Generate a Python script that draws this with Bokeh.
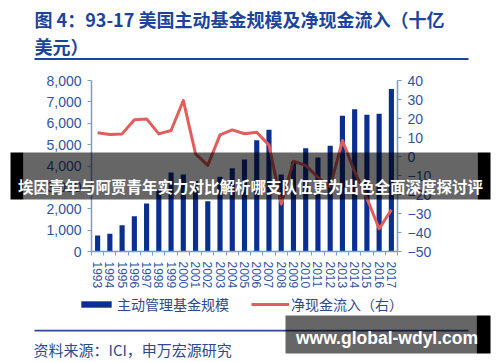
from bokeh.plotting import figure
from bokeh.models import (Range1d, LinearAxis, FixedTicker, NumeralTickFormatter,
                          Label, BoxAnnotation, Legend, LegendItem)
from bokeh.embed import file_html
from bokeh.resources import INLINE

# ---------------- data ----------------
years = list(range(1993, 2018))
fund_size = [750, 830, 1230, 1650, 2240, 2900, 3700, 3600, 3300, 2350,
             3500, 3900, 4300, 5200, 5700, 3600, 4200, 4830, 4400, 4950,
             6350, 6650, 6400, 6450, 7600]
net_flow = [12.5, 11.6, 11.9, 19.3, 19.8, 11.9, 13.7, 29.5, 1.4, -4.7,
            11.4, 14.0, 12.0, 12.8, 6.0, -25.0, -2.5, -4.7, -11.0, -16.0,
            8.4, -8.0, -22.0, -38.0, -28.0]
left_ticks = [0, 1000, 2000, 3000, 4000, 5000, 6000, 7000, 8000]
right_ticks = [-50, -40, -30, -20, -10, 0, 10, 20, 30, 40]
series_names = ["主动管理基金规模", "净现金流入（右）"]
title_line1 = "图 4：93-17 美国主动基金规模及净现金流入（十亿"
title_line2 = "美元）"
source_text = "资料来源：ICI，申万宏源研究"
banner_text = "埃因青年与阿贾青年实力对比解析哪支队伍更为出色全面深度探讨评"
site_text = "www.global-wdyl.com"

# ---------------- styles / layout ----------------
BAR = "#0a2f8f"
RED = "#e35d5b"
AXIS = "#6fa0d8"
TICKLAB = "#2f54a5"
TITLE = "#1c449c"
DARK = "#2b4a8f"
CJK = "Noto Sans CJK SC"
LAT = "Liberation Sans"

W, H = 500, 362
PL, PR, PT, PB = 91, 397, 80, 251  # plot area in canvas pixels


def x_span(lo, hi):
    s = (hi - lo) / (PR - PL)
    return lo - PL * s, hi + (W - PR) * s


def y_span(lo, hi):
    s = (hi - lo) / (PB - PT)
    return lo - (H - PB) * s, hi + PT * s


x_lo, x_hi = years[0] - 0.5, years[-1] + 0.5
p = figure(width=W, height=H, output_backend="svg", toolbar_location=None,
           x_range=Range1d(*x_span(x_lo, x_hi)),
           y_range=Range1d(*y_span(left_ticks[0], left_ticks[-1])),
           x_axis_location=None, y_axis_location=None, min_border=0)
p.outline_line_color = None
p.grid.visible = False
p.background_fill_color = "white"
p.border_fill_color = "white"

p.extra_y_ranges = {"flow": Range1d(*y_span(right_ticks[0], right_ticks[-1]))}

bars = p.vbar(x=years, top=fund_size, bottom=0, width=0.42,
              fill_color=BAR, line_color=None)
line = p.line(x=years, y=net_flow, y_range_name="flow", line_width=3,
              line_color=RED, line_join="round")

# axes (fixed inside the full-canvas frame)
xa = LinearAxis(fixed_location=left_ticks[0], bounds=(x_lo, x_hi),
                ticker=FixedTicker(ticks=years,
                                   minor_ticks=[y + 0.5 for y in [years[0] - 1] + years]))
xa.major_label_orientation = "vertical"
xa.major_tick_out = 0
xa.major_tick_in = 0
xa.minor_tick_out = 4
xa.minor_tick_in = 0
xa.major_label_standoff = 6
p.add_layout(xa, "below")

ya = LinearAxis(fixed_location=x_lo, bounds=(left_ticks[0], left_ticks[-1]),
                ticker=FixedTicker(ticks=left_ticks),
                formatter=NumeralTickFormatter(format="0,0"))
ya.major_tick_out = 4
ya.major_tick_in = 0
ya.minor_tick_out = 0
ya.minor_tick_in = 0
ya.major_label_standoff = 6
p.add_layout(ya, "left")

ra = LinearAxis(y_range_name="flow", fixed_location=x_hi,
                bounds=(right_ticks[0], right_ticks[-1]),
                ticker=FixedTicker(ticks=right_ticks))
ra.major_tick_out = 4
ra.major_tick_in = 0
ra.minor_tick_out = 0
ra.minor_tick_in = 0
ra.major_label_standoff = 6
p.add_layout(ra, "right")

for ax in [xa, ya, ra]:
    ax.axis_line_color = AXIS
    ax.axis_line_width = 1.5
    ax.major_tick_line_color = AXIS
    ax.minor_tick_line_color = AXIS
    ax.major_label_text_color = TICKLAB
    ax.major_label_text_font = LAT
    ax.major_label_text_font_size = "14px"
xa.major_label_text_font_size = "12px"

# legend
legend = Legend(items=[LegendItem(label=series_names[0], renderers=[bars]),
                       LegendItem(label=series_names[1], renderers=[line])],
                orientation="horizontal", location=(77, H - 314),
                glyph_width=38, glyph_height=8, label_standoff=2, spacing=22,
                padding=0, margin=0, border_line_color=None,
                background_fill_alpha=0,
                label_text_font=CJK, label_text_font_size="14px",
                label_text_color=DARK, label_height=18)
p.add_layout(legend)


def lab(text, X, Y, size, color, font=CJK, style="normal", align="left"):
    p.add_layout(Label(x=X, y=H - Y, x_units="screen", y_units="screen",
                       text=text, text_font=font, text_font_size=size,
                       text_font_style=style, text_color=color,
                       text_align=align, text_baseline="middle",
                       level="overlay"))


def box(X0, X1, Y0, Y1, color, alpha=1.0):
    p.add_layout(BoxAnnotation(left=X0, right=X1, top=H - Y0, bottom=H - Y1,
                               left_units="screen", right_units="screen",
                               top_units="screen", bottom_units="screen",
                               fill_color=color, fill_alpha=alpha,
                               line_color=None, level="overlay"))


# title
lab(title_line1, 34, 18.5, "18px", TITLE, style="bold")
lab(title_line2, 34, 45, "18px", TITLE, style="bold")
box(34, 468, 57.5, 59.5, TITLE)

# bottom rule + source
box(34, 468, 329.3, 331, DARK)
lab(source_text, 33, 349, "15px", DARK)

# watermark banner
box(23, 477, 152, 199, "black", 0.6)
box(10, 23, 152, 199, "black")
box(477, 490, 152, 199, "black")
lab(banner_text, 250, 185, "15.5px", "white", style="bold", align="center")

# site watermark
box(285, 476, 315, 353, "black", 0.6)
box(476, 490, 315, 353, "black")
lab(site_text, 386.5, 337, "17.5px", "white", font=LAT, style="bold", align="center")

open("out.html", "w").write(file_html(p, INLINE))
